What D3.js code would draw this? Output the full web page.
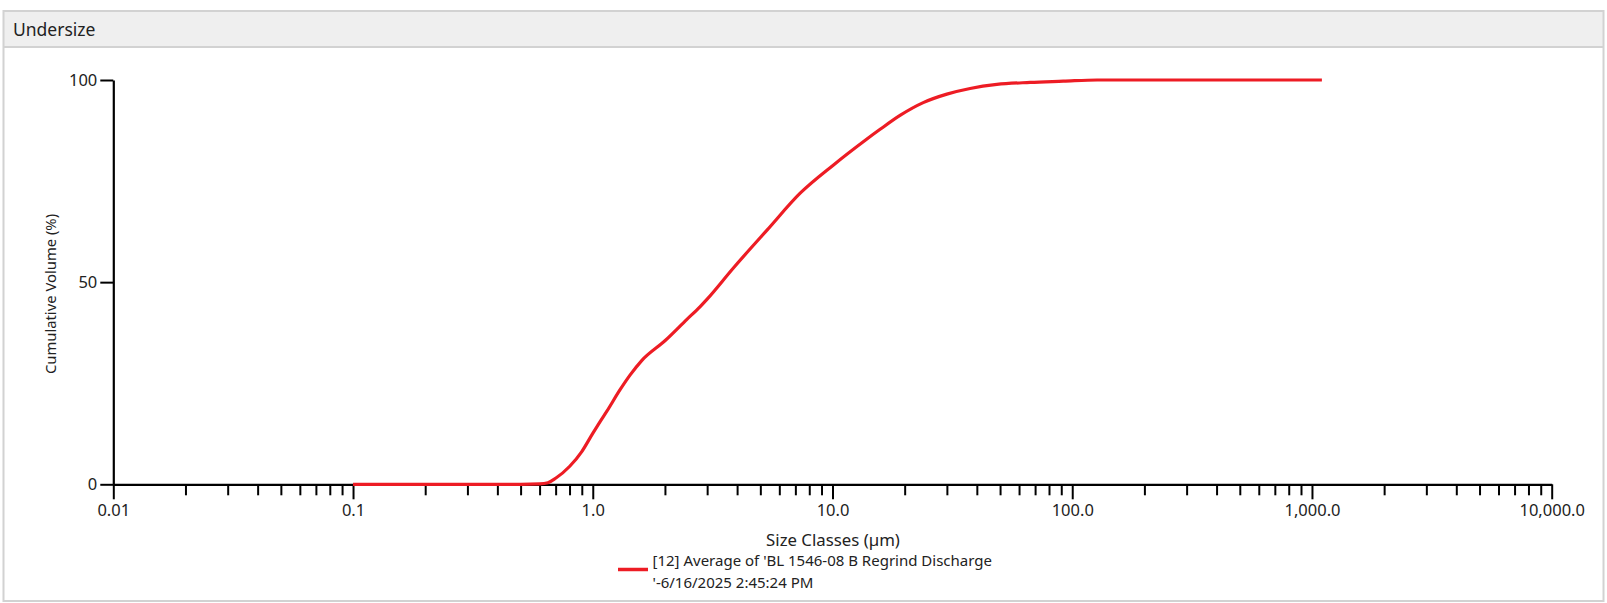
<!DOCTYPE html>
<html>
<head>
<meta charset="utf-8">
<script src="https://cdn.jsdelivr.net/npm/d3@7"></script>
<style>
  html, body { margin: 0; padding: 0; background: #ffffff; }
  svg { display: block; font-family: "Noto Sans", "Open Sans", sans-serif; }
</style>
</head>
<body>
<svg id="chart" width="1607" height="603"></svg>
<script>
// ---- Data ----
const panelTitle = "Undersize";
const sizeClasses = [0.1, 0.2, 0.3, 0.4, 0.5, 0.6, 0.65, 0.7, 0.8, 0.9, 1.0, 1.07, 1.14, 1.3, 1.43, 1.6, 2.0, 2.47, 2.8, 3.0, 3.86, 4.53, 5.32, 7.33, 10.1, 13.7, 15.8, 19.2, 23.9, 30.0, 37.5, 48.5, 66.7, 91.8, 127, 200, 400, 700, 1100];
const cumulativeVolume = [0, 0, 0, 0, 0, 0.1, 0.4, 1.5, 4.4, 8.1, 12.6, 15.4, 17.9, 23.4, 27.0, 30.6, 35.5, 40.8, 43.9, 45.8, 53.5, 58.2, 62.8, 72.0, 79.0, 85.1, 87.8, 91.3, 94.4, 96.5, 97.9, 98.9, 99.4, 99.7, 100, 100, 100, 100, 100];
const xMajorTicks = [0.01, 0.1, 1, 10, 100, 1000, 10000];
const xMajorLabels = ["0.01", "0.1", "1.0", "10.0", "100.0", "1,000.0", "10,000.0"];
const yTicks = [0, 50, 100];
const xTitle = "Size Classes (\u00b5m)";
const yTitle = "Cumulative Volume (%)";
const legendLines = ["[12] Average of 'BL 1546-08 B Regrind Discharge", "'-6/16/2025 2:45:24 PM"];

// ---- Layout ----
const svg = d3.select("#chart");
const red = "#ed1c24";
const textColor = "#222";

// Panel frame
svg.append("rect").attr("x", 3.5).attr("y", 11).attr("width", 1600).attr("height", 35)
  .attr("fill", "#efefef");
svg.append("rect").attr("x", 3.5).attr("y", 11).attr("width", 1600).attr("height", 590)
  .attr("fill", "none").attr("stroke", "#d2d2d2").attr("stroke-width", 2);
svg.append("line").attr("x1", 3.5).attr("x2", 1603.5).attr("y1", 47).attr("y2", 47)
  .attr("stroke", "#d2d2d2").attr("stroke-width", 2);
svg.append("text").attr("x", 13).attr("y", 36).attr("font-size", 17.5).attr("fill", textColor)
  .text(panelTitle);

// Scales
const x = d3.scaleLog().domain([0.01, 10000]).range([113.3, 1551.7]);
const y = d3.scaleLinear().domain([0, 100]).range([484.3, 80]);

// Minor ticks
const minorTicks = [];
xMajorTicks.slice(0, -1).forEach(m => { for (let k = 2; k <= 9; k++) minorTicks.push(m * k); });

const gxMinor = svg.append("g").attr("transform", `translate(0,${y(0)})`)
  .call(d3.axisBottom(x).tickValues(minorTicks).tickSize(11).tickSizeOuter(0).tickFormat(""));
gxMinor.select(".domain").remove();
gxMinor.selectAll(".tick line").attr("stroke", "#000").attr("stroke-width", 2);

const gx = svg.append("g").attr("transform", `translate(0,${y(0)})`)
  .call(d3.axisBottom(x).tickValues(xMajorTicks).tickSize(15).tickSizeOuter(0)
    .tickFormat((d, i) => xMajorLabels[i]).tickPadding(5));
gx.select(".domain").attr("stroke", "#000").attr("stroke-width", 2.2);
gx.selectAll(".tick line").attr("stroke", "#000").attr("stroke-width", 2);
gx.selectAll(".tick text").attr("font-size", 16.5).attr("fill", textColor).attr("font-family", "Noto Sans, Open Sans, sans-serif");

const gy = svg.append("g").attr("transform", `translate(${x(0.01)},0)`)
  .call(d3.axisLeft(y).tickValues(yTicks).tickSize(13).tickSizeOuter(0).tickPadding(3));
gy.select(".domain").attr("stroke", "#000").attr("stroke-width", 2.2);
gy.selectAll(".tick line").attr("stroke", "#000").attr("stroke-width", 2);
gy.selectAll(".tick text").attr("font-size", 16.5).attr("fill", textColor).attr("font-family", "Noto Sans, Open Sans, sans-serif");

// Axis titles
svg.append("text").attr("x", 833).attr("y", 546).attr("text-anchor", "middle")
  .attr("font-size", 16.8).attr("fill", textColor).text(xTitle);
svg.append("text").attr("transform", "translate(56,294) rotate(-90)").attr("text-anchor", "middle")
  .attr("font-size", 14.8).attr("fill", textColor).text(yTitle);

// Curve
const data = sizeClasses.map((s, i) => ({ s, v: cumulativeVolume[i] }));
const line = d3.line().x(d => x(d.s)).y(d => y(d.v)).curve(d3.curveMonotoneX);
svg.append("path").datum(data).attr("d", line).attr("fill", "none")
  .attr("stroke", red).attr("stroke-width", 3.2).attr("stroke-linejoin", "round");

// Legend
svg.append("line").attr("x1", 618).attr("x2", 648).attr("y1", 569.5).attr("y2", 569.5)
  .attr("stroke", red).attr("stroke-width", 3.5);
legendLines.forEach((t, i) => {
  svg.append("text").attr("x", 652.5).attr("y", 565.5 + i * 22).attr("font-size", 15)
    .attr("fill", textColor).text(t);
});
</script>
</body>
</html>
